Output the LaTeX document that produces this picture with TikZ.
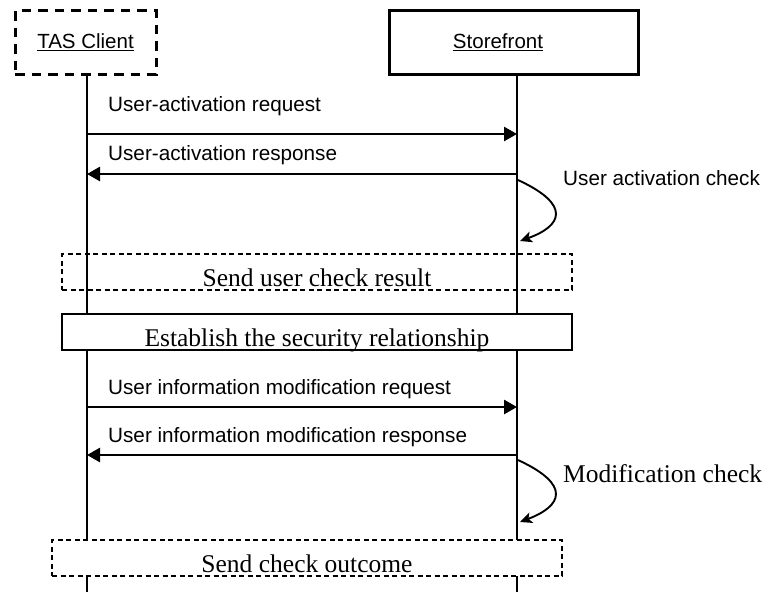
\documentclass[tikz,border=0pt]{standalone}
\usepackage{fontspec}
\setmainfont{Liberation Serif}
\setsansfont{Liberation Sans}
\usetikzlibrary{arrows.meta,positioning,calc}

\tikzset{
  party/.style={line width=3pt, minimum width=141pt, minimum height=64pt,
    font=\sffamily\fontsize{20.5}{24}\selectfont},
  life/.style={line width=2.8pt},
  msg/.style={line width=2.7pt, -{Triangle[length=13pt,width=14pt]}},
  msgtext/.style={anchor=base west, inner sep=0pt, font=\sffamily\fontsize{20.7}{24}\selectfont},
  band/.style={draw, line width=1.2pt, minimum width=510pt, text height=30pt,
    text depth=2pt, inner ysep=2pt, font=\fontsize{25.5}{30}\selectfont},
  banddash/.style={dash pattern=on 5pt off 3.5pt},
  selfcheck/.style={line width=1.9pt, -{Stealth[length=12pt,width=11pt,inset=3pt]}}
}

\begin{document}
\begin{tikzpicture}[x=1pt,y=-1pt]
\useasboundingbox (0,0) rectangle (765,592);

\node[party, draw, dash pattern=on 9.5pt off 7pt] (tas) at (85.5,42.5) {\underline{TAS Client}};
\node[party, draw, minimum width=249pt] (sf) at (513.5,42.5) {\underline{Storefront}\hspace*{31pt}};

% lifelines
\coordinate (tastop) at (tas.south -| 87,0);
\coordinate (tasend) at (87,592);
\coordinate (sftop) at (sf.south -| 517,0);
\coordinate (sfend) at (517,592);
\draw[life] (tastop) -- (tasend);
\draw[life] (sftop) -- (sfend);

% user activation
\coordinate (t1) at (87,134);  \coordinate (s1) at (517,134);
\coordinate (t2) at (87,174);  \coordinate (s2) at (517,174);
\draw[msg] (t1) -- (s1);
\draw[msg] (s2) -- (t2);
\node[msgtext] (m1) at (108,111) {User-activation request};
\node[msgtext] (m2) at (108,160) {User-activation response};

\coordinate (c1a) at (518,180); \coordinate (c1b) at (520,241);
\draw[selfcheck] (c1a) .. controls (572,205) and (562,226) .. (c1b);
\node[msgtext] (chk1) at (563,185) {User activation check};

\node[band, banddash] (res) at (317,272) {Send user check result};
\node[band, fill=white] (sec) at (317,332) {Establish the security relationship};

% user information modification
\coordinate (t3) at (87,407);  \coordinate (s3) at (517,407);
\coordinate (t4) at (87,455);  \coordinate (s4) at (517,455);
\draw[msg] (t3) -- (s3);
\draw[msg] (s4) -- (t4);
\node[msgtext] (m3) at (108,394) {User information modification request};
\node[msgtext] (m4) at (108,442) {User information modification response};

\coordinate (c2a) at (518,460); \coordinate (c2b) at (520,522);
\draw[selfcheck] (c2a) .. controls (572,485) and (562,506) .. (c2b);
\node[msgtext, font=\fontsize{25.5}{30}\selectfont] (chk2) at (563,482) {Modification check};

\node[band, banddash, fill=white] (out) at (307,558) {Send check outcome};

\end{tikzpicture}
\end{document}
